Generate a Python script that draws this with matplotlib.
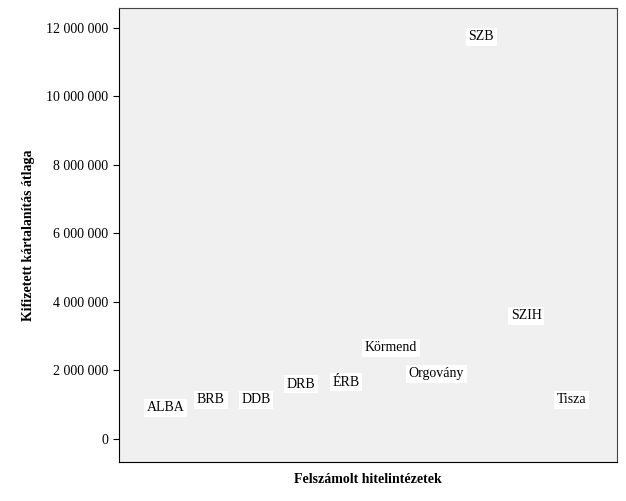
import matplotlib
matplotlib.use("Agg")
import matplotlib.pyplot as plt

# Data
banks = ["ALBA", "BRB", "DDB", "DRB", "ÉRB", "Körmend", "Orgovány", "SZB", "SZIH", "Tisza"]
avg_payout = [905000, 1140000, 1140000, 1600000, 1660000, 2660000, 1900000, 11740000, 3590000, 1140000]
yticks = [0, 2000000, 4000000, 6000000, 8000000, 10000000, 12000000]

plt.rcParams["font.family"] = "Liberation Serif"

fig = plt.figure(figsize=(6.26, 5.01), dpi=100)
ax = fig.add_axes([0.190, 0.078, 0.796, 0.906])
ax.set_facecolor("#f0f0f0")

for i, (name, val) in enumerate(zip(banks, avg_payout)):
    ax.text(i, val, name, ha="center", va="center", fontsize=10,
            bbox=dict(facecolor="white", edgecolor="none", pad=2))

ax.set_xlim(-1.04, 10.02)
ax.set_ylim(-670000, 12580000)
ax.set_xticks([])
ax.set_yticks(yticks)
ax.set_yticklabels([f"{v:,}".replace(",", " ") for v in yticks], fontsize=10)
ax.tick_params(axis="y", length=4)
for s in ["top", "right"]:
    ax.spines[s].set_color("#444444")

ax.set_xlabel("Felszámolt hitelintézetek", fontsize=10, fontweight="bold", labelpad=8)
ax.set_ylabel("Kifizetett kártalanítás átlaga", fontsize=10, fontweight="bold", labelpad=8)

fig.savefig("out.png", dpi=100)
